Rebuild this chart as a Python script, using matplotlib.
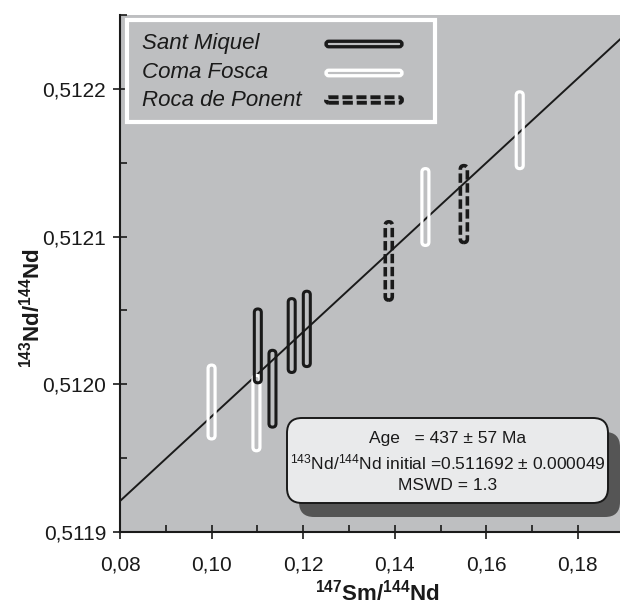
import numpy as np
import matplotlib.pyplot as plt
from matplotlib.patches import FancyBboxPatch, Rectangle
from matplotlib.ticker import FuncFormatter, MultipleLocator

plt.rcParams['font.family'] = ['Liberation Sans', 'DejaVu Sans']
plt.rcParams['mathtext.fontset'] = 'custom'
plt.rcParams['mathtext.rm'] = 'Liberation Sans'
plt.rcParams['mathtext.it'] = 'Liberation Sans:italic'
plt.rcParams['mathtext.bf'] = 'Liberation Sans:bold'

# --- data (147Sm/144Nd, 143Nd/144Nd ranges) ---
sm_x = [0.1101, 0.1133, 0.1175, 0.1208]
sm_lo = [0.512001, 0.511971, 0.512008, 0.512012]
sm_hi = [0.512051, 0.512023, 0.512058, 0.512063]

cf_x = [0.1000, 0.1098, 0.1467, 0.1673]
cf_lo = [0.511963, 0.511955, 0.512094, 0.512146]
cf_hi = [0.512013, 0.512006, 0.512146, 0.512198]

rp_x = [0.1387, 0.1551]
rp_lo = [0.512057, 0.512096]
rp_hi = [0.512110, 0.512148]

age_ma = 437
nd_initial = 0.511692
lam_sm = 6.54e-12
slope = np.exp(lam_sm * age_ma * 1e6) - 1

xticks = [0.08, 0.10, 0.12, 0.14, 0.16, 0.18]
yticks = [0.5119, 0.5120, 0.5121, 0.5122]

BG = '#bebfc1'
INK = '#1a1a1a'
W, H = 620, 605
DASH = (0, (2.6, 1.0))


def fx(px):
    return px / W


def fy(py):
    return 1 - py / H


fig = plt.figure(figsize=(W / 100, H / 100), dpi=100)
ax = fig.add_axes([fx(120), fy(532), fx(620) - fx(120), fy(15) - fy(532)])
ax.set_facecolor(BG)
xlim = (0.08, 0.1892)
ylim = (0.5119, 0.51225)
ax.set_xlim(*xlim)
ax.set_ylim(*ylim)

# aspect for round ends in data units
ax_w = (fx(620) - fx(120)) * W
ax_h = (fy(15) - fy(532)) * H
px_x = ax_w / (xlim[1] - xlim[0])
px_y = ax_h / (ylim[1] - ylim[0])
asp = px_x / px_y

# isochron
xl = np.array(xlim)
ax.plot(xl, nd_initial + slope * xl, color=INK, lw=1.4, zorder=2)


def add_box(x, lo, hi, ec, ls='-', lw=2.2):
    w = 7.0 / px_x
    p = FancyBboxPatch((x - w / 2, lo), w, hi - lo,
                       boxstyle='round,pad=0,rounding_size=%g' % (w / 2),
                       mutation_aspect=asp, fc='none', ec=ec, lw=lw,
                       ls=ls, zorder=3)
    ax.add_patch(p)


for x, lo, hi in zip(cf_x, cf_lo, cf_hi):
    add_box(x, lo, hi, 'white', lw=2.3)
for x, lo, hi in zip(sm_x, sm_lo, sm_hi):
    add_box(x, lo, hi, INK)
for x, lo, hi in zip(rp_x, rp_lo, rp_hi):
    add_box(x, lo, hi, INK, ls=DASH, lw=2.6)

# axes styling
for s in ['top', 'right']:
    ax.spines[s].set_visible(False)
for s in ['left', 'bottom']:
    ax.spines[s].set_linewidth(1.5)
    ax.spines[s].set_color(INK)

ax.set_xticks(xticks)
ax.set_yticks(yticks)
ax.xaxis.set_minor_locator(MultipleLocator(0.01))
ax.yaxis.set_minor_locator(MultipleLocator(0.00005))
ax.xaxis.set_major_formatter(FuncFormatter(lambda v, p: ('%.2f' % v).replace('.', ',')))
ax.yaxis.set_major_formatter(FuncFormatter(lambda v, p: ('%.4f' % v).replace('.', ',')))
ax.tick_params(which='major', direction='inout', length=10, width=1.2,
               labelsize=15, color=INK, labelcolor=INK)
ax.tick_params(axis='x', which='major', pad=12)
ax.tick_params(axis='y', which='major', pad=5)
ax.tick_params(which='minor', direction='in', length=5, width=1.2, color=INK)

fig.text(fx(377), fy(593), r'$^{\mathbf{147}}$Sm/$^{\mathbf{144}}$Nd',
         fontsize=16, fontweight='bold', ha='center', va='center', color=INK)
fig.text(fx(32), fy(308), r'$^{\mathbf{143}}$Nd/$^{\mathbf{144}}$Nd',
         fontsize=16, fontweight='bold', ha='center', va='center',
         rotation=90, color=INK)

# legend
fig.patches.append(Rectangle((fx(127), fy(122)), fx(435) - fx(127), fy(20) - fy(122),
                             transform=fig.transFigure, fc='none', ec='white', lw=3,
                             zorder=5))
leg_names = ['Sant Miquel', 'Coma Fosca', 'Roca de Ponent']
leg_y = [44, 73, 100]
leg_ec = [INK, 'white', INK]
leg_ls = ['-', '-', DASH]
leg_lw = [2.4, 2.4, 2.8]
for name, yy, ec, ls, lw in zip(leg_names, leg_y, leg_ec, leg_ls, leg_lw):
    fig.text(fx(142), fy(yy), name, fontsize=16, style='italic',
             ha='left', va='center', color=INK)
    hh = 5.5
    p = FancyBboxPatch((fx(326), fy(yy + hh / 2)), fx(402) - fx(326), hh / H,
                       boxstyle='round,pad=0,rounding_size=%g' % (hh / 2 / W),
                       mutation_aspect=W / H, transform=fig.transFigure,
                       fc='none', ec=ec, lw=lw, ls=ls, zorder=6)
    fig.patches.append(p)

# result box with shadow
bx0, by0, bx1, by1 = 287, 418, 608, 503
rr = 15
shadow = FancyBboxPatch((fx(bx0 + 12), fy(by1 + 14)), fx(bx1) - fx(bx0), (by1 - by0) / H,
                        boxstyle='round,pad=0,rounding_size=%g' % (rr / W),
                        mutation_aspect=W / H, transform=fig.transFigure,
                        fc='#555555', ec='none', zorder=7)
box = FancyBboxPatch((fx(bx0), fy(by1)), fx(bx1) - fx(bx0), (by1 - by0) / H,
                     boxstyle='round,pad=0,rounding_size=%g' % (rr / W),
                     mutation_aspect=W / H, transform=fig.transFigure,
                     fc='#e9eaeb', ec=INK, lw=1.4, zorder=8)
fig.patches.append(shadow)
fig.patches.append(box)

lines = ['Age   = %d ± 57 Ma' % age_ma,
         r'$^{143}$Nd/$^{144}$Nd initial =%.6f ± 0.000049' % nd_initial,
         'MSWD = 1.3']
for t, yy in zip(lines, [438, 462, 485]):
    fig.text(fx(448), fy(yy), t, fontsize=12.5, ha='center', va='center',
             color=INK, zorder=9)

fig.savefig('out.png', dpi=100)
